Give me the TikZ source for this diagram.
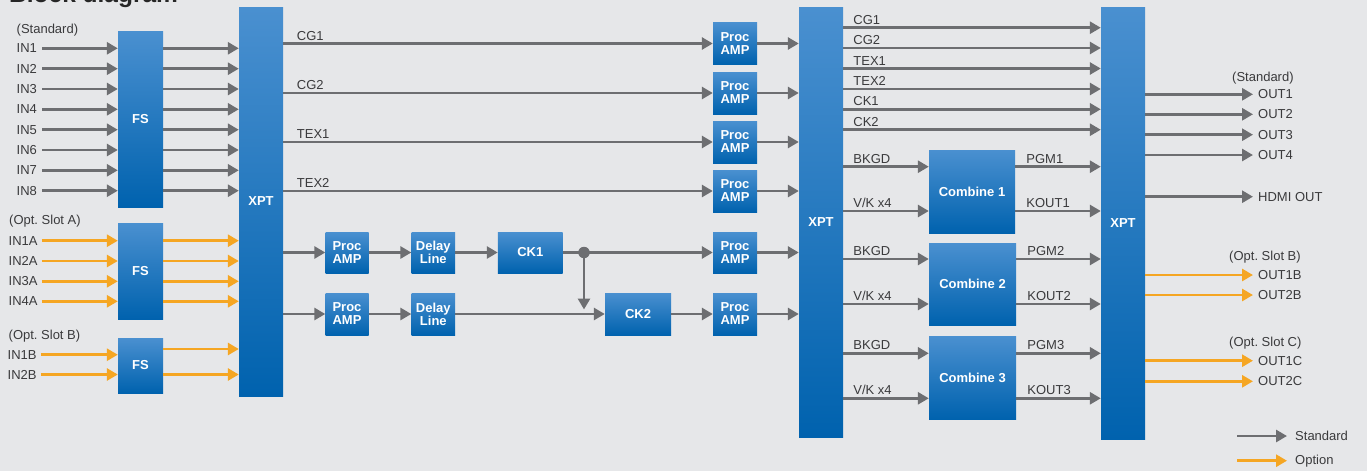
\documentclass[tikz,border=0pt]{standalone}
\usepackage{fontspec}
\setmainfont{Liberation Sans}
\usetikzlibrary{arrows.meta,calc}
\definecolor{bg}{HTML}{E6E7E9}
\definecolor{lg}{HTML}{6D6E71}
\definecolor{og}{HTML}{F5A623}
\definecolor{tx}{HTML}{3A3A3C}
\definecolor{btop}{HTML}{4A90D0}
\definecolor{bbot}{HTML}{0062AE}
\frenchspacing
\begin{document}
\begin{tikzpicture}[x=1pt,y=-1pt,
  blk/.style={top color=btop,bottom color=bbot,text=white,
    font=\fontsize{13}{13}\selectfont\bfseries,inner sep=0pt,align=center},
  lbl/.style={text=tx,font=\fontsize{13}{13}\selectfont,inner sep=0pt},
  garr/.style={draw=lg,line width=2.8pt,-{Triangle[length=11pt,width=12pt]}},
  oarr/.style={draw=og,line width=2.8pt,-{Triangle[length=11pt,width=12pt]}},
  gline/.style={draw=lg,line width=2.8pt}]
\fill[bg] (0,0) rectangle (1367,471);
\useasboundingbox (0,0) rectangle (1367,471);
\node[anchor=base west,inner sep=0pt,font=\fontsize{24.5}{24.5}\selectfont\bfseries,text=black!85] (title) at (9,2.5) {Block diagram};

% ---------- blocks ----------
\node[blk,minimum width=45pt,minimum height=176pt] (fs1) at (140.5,119) {FS};
\node[blk,minimum width=45pt,minimum height=96pt] (fs2) at (140.5,271) {FS};
\node[blk,minimum width=45pt,minimum height=55pt] (fs3) at (140.5,365.5) {FS};
\node[blk,minimum width=44pt,minimum height=389pt] (xpt1) at (261,201.5) {XPT};
\node[blk,minimum width=44pt,minimum height=430pt] (xpt2) at (821,222) {XPT};
\node[blk,minimum width=44pt,minimum height=432pt] (xpt3) at (1123,223) {XPT};

\node[blk,minimum width=44pt,minimum height=42pt] (pa1) at (735,43.5) {Proc\\AMP};
\node[blk,minimum width=44pt,minimum height=42pt] (pa2) at (735,93) {Proc\\AMP};
\node[blk,minimum width=44pt,minimum height=42pt] (pa3) at (735,142) {Proc\\AMP};
\node[blk,minimum width=44pt,minimum height=42pt] (pa4) at (735,191) {Proc\\AMP};
\node[blk,minimum width=44pt,minimum height=41pt] (pa5) at (735,252.5) {Proc\\AMP};
\node[blk,minimum width=44pt,minimum height=42pt] (pa6) at (735,314) {Proc\\AMP};

\node[blk,minimum width=43pt,minimum height=41pt] (pl1) at (347,252.5) {Proc\\AMP};
\node[blk,minimum width=43pt,minimum height=42pt] (pl2) at (347,314) {Proc\\AMP};
\node[blk,minimum width=43.5pt,minimum height=41pt] (dl1) at (433.3,252.5) {Delay\\Line};
\node[blk,minimum width=43.5pt,minimum height=42pt] (dl2) at (433.3,314) {Delay\\Line};
\node[blk,minimum width=64.7pt,minimum height=41pt] (ck1) at (530.3,252.5) {CK1};
\node[blk,minimum width=66pt,minimum height=42pt] (ck2) at (638,314) {CK2};

\node[blk,minimum width=86pt,minimum height=83pt] (cb1) at (972,191.5) {Combine 1};
\node[blk,minimum width=87pt,minimum height=82pt] (cb2) at (972.5,284) {Combine 2};
\node[blk,minimum width=87pt,minimum height=83pt] (cb3) at (972.5,377.5) {Combine 3};

% ---------- inputs ----------
\node[lbl,anchor=west] (hstd) at (16.5,30) {(Standard)};
\foreach \i/\y in {1/48.3,2/68.7,3/89.0,4/109.3,5/129.7,6/150.0,7/170.3,8/190.7}{
  \node[lbl,anchor=west] (in\i) at (16.5,\y) {IN\i};
  \draw[garr,shorten <=5pt] (in\i.east) -- (fs1.west |- in\i);
  \draw[garr] (fs1.east |- in\i) -- (xpt1.west |- in\i);
}
\node[lbl,anchor=west] (hsa) at (9,220.7) {(Opt. Slot A)};
\foreach \i/\y in {1/240.7,2/261.0,3/281.3,4/301.3}{
  \node[lbl,anchor=west] (in\i a) at (8.5,\y) {IN\i A};
  \draw[oarr,shorten <=4pt] (in\i a.east) -- (fs2.west |- in\i a);
  \draw[oarr] (fs2.east |- in\i a) -- (xpt1.west |- in\i a);
}
\node[lbl,anchor=west] (hsb) at (8.5,335.7) {(Opt. Slot B)};
\node[lbl,anchor=west] (in1b) at (7.5,354.7) {IN1B};
\node[lbl,anchor=west] (in2b) at (7.5,374.5) {IN2B};
\draw[oarr,shorten <=4pt] (in1b.east) -- (fs3.west |- in1b);
\draw[oarr,shorten <=4pt] (in2b.east) -- (fs3.west |- in2b);
\coordinate (f3o1) at (163,349);
\draw[oarr] (f3o1) -- (xpt1.west |- f3o1);
\draw[oarr] (fs3.east |- in2b) -- (xpt1.west |- in2b);

% ---------- XPT1 to Proc AMP ----------
\foreach \n/\t in {1/CG1,2/CG2,3/TEX1,4/TEX2}{
  \draw[garr] (xpt1.east |- pa\n) -- (pa\n.west);
  \node[lbl,anchor=base west] (l1\n) at ($(xpt1.east |- pa\n)+(13.5,-3.5)$) {\t};
}
\draw[garr] (xpt1.east |- pl1) -- (pl1.west);
\draw[garr] (pl1) -- (dl1);
\draw[garr] (dl1) -- (ck1);
\draw[garr] (ck1) -- (pa5);
\draw[garr] (xpt1.east |- pl2) -- (pl2.west);
\draw[garr] (pl2) -- (dl2);
\draw[garr] (dl2) -- (ck2);
\draw[garr] (ck2) -- (pa6);
\node[circle,fill=lg,inner sep=0pt,minimum size=11.5pt] (dot) at (584,252.5) {};
\draw[garr,shorten >=4.5pt] (dot.center) -- (dot |- ck2);
\foreach \n in {1,...,6}{
  \draw[garr] (pa\n) -- (xpt2.west |- pa\n);
}

% ---------- XPT2 to XPT3 ----------
\foreach \i/\t/\y in {1/CG1/27.7,2/CG2/48.0,3/TEX1/68.5,4/TEX2/89.0,5/CK1/109.3,6/CK2/129.7}{
  \coordinate (r\i) at (0,\y);
  \draw[garr] (xpt2.east |- r\i) -- (xpt3.west |- r\i);
  \node[lbl,anchor=base west] (l2\i) at ($(xpt2.east |- r\i)+(10,-3.5)$) {\t};
}
\foreach \c/\ya/\yb in {1/166.7/211.0,2/259.0/304.0,3/353.3/398.3}{
  \coordinate (ba\c) at (0,\ya);
  \coordinate (bb\c) at (0,\yb);
  \draw[garr] (xpt2.east |- ba\c) -- (cb\c.west |- ba\c);
  \draw[garr] (xpt2.east |- bb\c) -- (cb\c.west |- bb\c);
  \node[lbl,anchor=base west] (lbk\c) at ($(xpt2.east |- ba\c)+(10,-3.5)$) {BKGD};
  \node[lbl,anchor=base west] (lvk\c) at ($(xpt2.east |- bb\c)+(10,-3.5)$) {V/K x4};
  \draw[garr] (cb\c.east |- ba\c) -- (xpt3.west |- ba\c);
  \draw[garr] (cb\c.east |- bb\c) -- (xpt3.west |- bb\c);
  \node[lbl,anchor=base west] (lpg\c) at ($(cb\c.east |- ba\c)+(11,-3.5)$) {PGM\c};
  \node[lbl,anchor=base west] (lko\c) at ($(cb\c.east |- bb\c)+(11,-3.5)$) {KOUT\c};
}

% ---------- outputs ----------
\node[lbl,anchor=west] (hostd) at (1232,77.7) {(Standard)};
\foreach \n/\t/\y in {1/OUT1/94.3,2/OUT2/114.3,3/OUT3/134.7,4/OUT4/155.0,5/HDMI OUT/196.7}{
  \node[lbl,anchor=west] (o\n) at (1258,\y) {\t};
  \draw[garr,shorten >=5pt] (xpt3.east |- o\n) -- (o\n.west);
}
\node[lbl,anchor=west] (hosb) at (1229,257.3) {(Opt. Slot B)};
\node[lbl,anchor=west] (hosc) at (1229,342.7) {(Opt. Slot C)};
\foreach \n/\t/\y in {6/OUT1B/275.0,7/OUT2B/295.0,8/OUT1C/360.7,9/OUT2C/381.3}{
  \node[lbl,anchor=west] (o\n) at (1258,\y) {\t};
  \draw[oarr,shorten >=5pt] (xpt3.east |- o\n) -- (o\n.west);
}

% ---------- legend ----------
\node[lbl,anchor=west] (legs) at (1295,436) {Standard};
\node[lbl,anchor=west] (lego) at (1295,460.7) {Option};
\coordinate (lgs) at (1237,436);
\coordinate (lgo) at (1237,460.7);
\draw[garr,shorten >=8pt] (lgs) -- (legs.west);
\draw[oarr,shorten >=8pt] (lgo) -- (lego.west);
\end{tikzpicture}
\end{document}
